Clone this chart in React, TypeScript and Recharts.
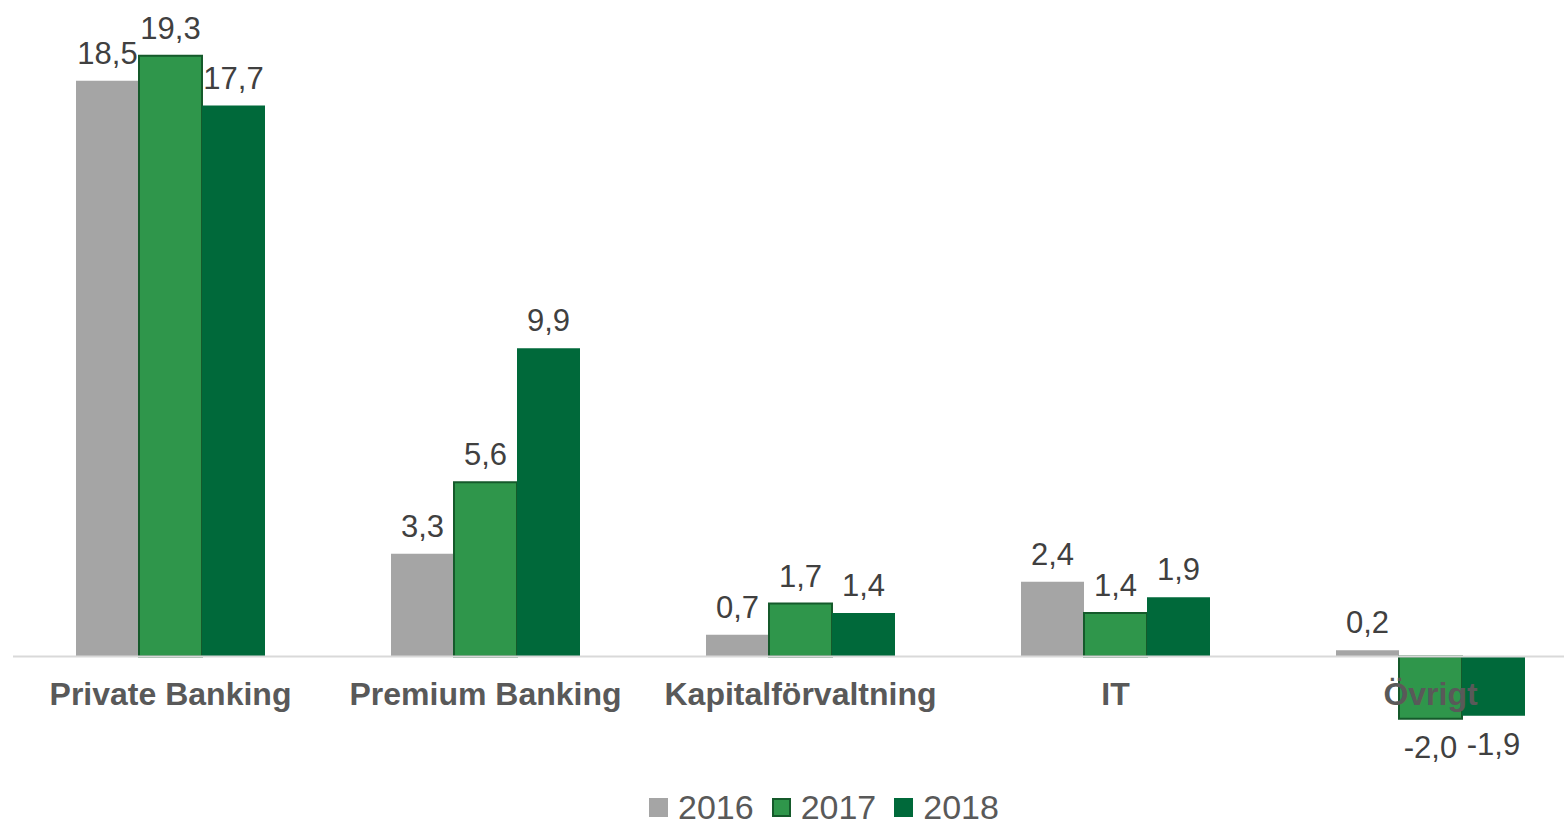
import { Bar, BarChart, LabelList, ReferenceLine, XAxis, YAxis } from "recharts";

const categories = ["Private Banking", "Premium Banking", "Kapitalförvaltning", "IT", "Övrigt"];
const values2016 = [18.5, 3.3, 0.7, 2.4, 0.2];
const values2017 = [19.3, 5.6, 1.7, 1.4, -2.0];
const values2018 = [17.7, 9.9, 1.4, 1.9, -1.9];
const years = ["2016", "2017", "2018"];

const data = categories.map((name, i) => ({
  name,
  y2016: values2016[i],
  y2017: values2017[i],
  y2018: values2018[i],
}));

const COLORS = { y2016: "#a5a5a5", y2017: "#2f964b", y2018: "#00693a" };
const BORDER_2017 = "#155a2b";

const W = 1600;
const H = 825;
const MARGIN = { top: 34, right: 12, left: 13, bottom: 0 };
const X_AXIS_H = 44;
const Y_MIN = -4;
const Y_MAX = 20;
const PLOT_H = H - MARGIN.top - MARGIN.bottom - X_AXIS_H;
const ZERO_Y = MARGIN.top + (Y_MAX / (Y_MAX - Y_MIN)) * PLOT_H;

const FONT = "'Liberation Sans', Arial, sans-serif";
const fmt = (v: unknown) => Number(v).toFixed(1).replace(".", ",");

// category names sit just under the zero line, not at the plot bottom
function CategoryTick(props: any) {
  const { x, payload } = props;
  return (
    <text
      x={x}
      y={ZERO_Y + 48}
      textAnchor="middle"
      fontFamily={FONT}
      fontSize={32}
      fontWeight="bold"
      fill="#595959"
    >
      {payload.value}
    </text>
  );
}

function LegendBox() {
  const keys = ["y2016", "y2017", "y2018"] as const;
  return (
    <div
      style={{
        position: "absolute",
        left: 649,
        top: 790,
        display: "flex",
        alignItems: "center",
        fontFamily: FONT,
        fontSize: 34,
        lineHeight: "34px",
        color: "#595959",
        whiteSpace: "nowrap",
      }}
    >
      {keys.map((k, i) => (
        <div key={k} style={{ display: "flex", alignItems: "center", marginRight: 18 }}>
          <span
            style={{
              display: "inline-block",
              width: 19,
              height: 19,
              boxSizing: "border-box",
              background: COLORS[k],
              border: k === "y2017" ? `2px solid ${BORDER_2017}` : "none",
              marginRight: 10,
            }}
          />
          <span>{years[i]}</span>
        </div>
      ))}
    </div>
  );
}

export default function App() {
  const labelProps = {
    position: "top" as const,
    offset: 17,
    formatter: fmt,
    style: { fontFamily: FONT, fontSize: 31, fill: "#404040" },
  };
  return (
    <div
      style={{
        position: "absolute",
        left: 0,
        top: 0,
        width: 1564,
        height: 825,
        overflow: "hidden",
        background: "#fff",
      }}
    >
      <BarChart width={W} height={H} data={data} margin={MARGIN} barGap={0} barCategoryGap="20%">
        <YAxis hide domain={[Y_MIN, Y_MAX]} allowDataOverflow />
        <ReferenceLine y={0} stroke="#d9d9d9" strokeWidth={2} />
        <Bar dataKey="y2016" fill={COLORS.y2016} isAnimationActive={false}>
          <LabelList dataKey="y2016" {...labelProps} />
        </Bar>
        <Bar
          dataKey="y2017"
          fill={COLORS.y2017}
          stroke={BORDER_2017}
          strokeWidth={2}
          isAnimationActive={false}
        >
          <LabelList dataKey="y2017" {...labelProps} />
        </Bar>
        <Bar dataKey="y2018" fill={COLORS.y2018} isAnimationActive={false}>
          <LabelList dataKey="y2018" {...labelProps} />
        </Bar>
        <XAxis
          dataKey="name"
          height={X_AXIS_H}
          axisLine={false}
          tickLine={false}
          tickSize={0}
          interval={0}
          tick={<CategoryTick />}
        />
      </BarChart>
      <LegendBox />
    </div>
  );
}
